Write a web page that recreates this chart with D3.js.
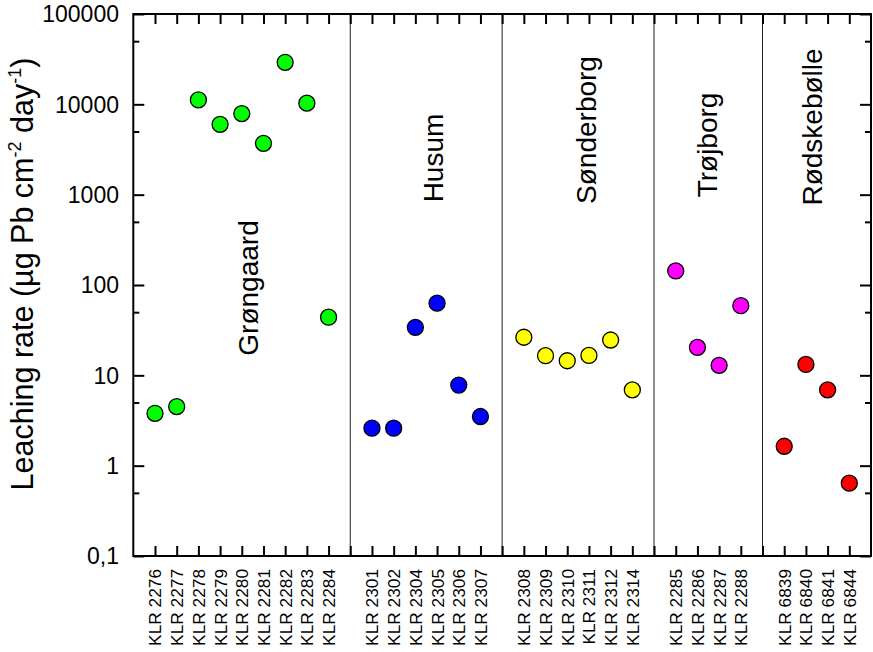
<!DOCTYPE html>
<html>
<head>
<meta charset="utf-8">
<script src="https://cdn.jsdelivr.net/npm/d3@7/dist/d3.min.js"></script>
<style>
  html, body { margin: 0; padding: 0; background: #fff; }
  svg { display: block; font-family: "Liberation Sans", Arial, Helvetica, sans-serif; }
</style>
</head>
<body>
<svg id="chart" width="873" height="652"></svg>
<script>
// ---------------- DATA ----------------
const groupNames = ["Grøngaard", "Husum", "Sønderborg", "Trøjborg", "Rødskebølle"];

const samplesGrongaard = ["KLR 2276", "KLR 2277", "KLR 2278", "KLR 2279", "KLR 2280", "KLR 2281", "KLR 2282", "KLR 2283", "KLR 2284"];
const valuesGrongaard  = [3.8, 4.5, 11200, 6000, 7900, 3700, 29200, 10300, 44];

const samplesHusum = ["KLR 2301", "KLR 2302", "KLR 2304", "KLR 2305", "KLR 2306", "KLR 2307"];
const valuesHusum  = [2.6, 2.6, 34, 63, 7.8, 3.5];

const samplesSonderborg = ["KLR 2308", "KLR 2309", "KLR 2310", "KLR 2311", "KLR 2312", "KLR 2314"];
const valuesSonderborg  = [26.4, 16.5, 14.5, 16.6, 24.6, 6.9];

const samplesTrojborg = ["KLR 2285", "KLR 2286", "KLR 2287", "KLR 2288"];
const valuesTrojborg  = [143, 20.4, 12.9, 59];

const samplesRodskebolle = ["KLR 6839", "KLR 6840", "KLR 6841", "KLR 6844"];
const valuesRodskebolle  = [1.64, 13.2, 6.9, 0.64];

const yTickValues = [0.1, 1, 10, 100, 1000, 10000, 100000];
const yTickLabels = ["0,1", "1", "10", "100", "1000", "10000", "100000"];
const yMinorTickValues = [0.5, 5, 50, 500, 5000, 50000];

// ---------------- STYLE / LAYOUT ----------------
const groupColors = ["#00ff00", "#0000ff", "#ffff00", "#ff00ff", "#ff0000"];
// group label anchor in data units: [x index units, y value]
const groupLabelAnchors = [[5.75, 92.7], [14.28, 2546], [21.33, 5200], [26.91, 3548], [31.75, 5610]];

const groupSamples = [samplesGrongaard, samplesHusum, samplesSonderborg, samplesTrojborg, samplesRodskebolle];
const groupValues  = [valuesGrongaard, valuesHusum, valuesSonderborg, valuesTrojborg, valuesRodskebolle];

// Build positions: each group occupies consecutive integer slots, separated by one empty slot
const points = [];
const separators = [];
let pos = 0;
groupSamples.forEach((arr, g) => {
  arr.forEach((name, i) => {
    pos += 1;
    points.push({ name, value: groupValues[g][i], pos, group: g });
  });
  pos += 1;
  if (g < groupSamples.length - 1) separators.push(pos);
});
const xMax = pos; // right edge

const plotL = 133.3, plotR = 871, plotT = 14, plotB = 556;

const svg = d3.select("#chart");

const x = d3.scaleLinear().domain([0, xMax]).range([plotL, plotR]);
const y = d3.scaleLog().domain([0.1, 100000]).range([plotB, plotT]);

const allTicks = d3.range(1, xMax);

// separators
svg.append("g").selectAll("line").data(separators).join("line")
  .attr("x1", d => x(d)).attr("x2", d => x(d))
  .attr("y1", plotT).attr("y2", plotB)
  .attr("stroke", "#222").attr("stroke-width", 1);

// Axes
const bottomAxis = d3.axisBottom(x).tickValues(allTicks).tickSize(-10).tickFormat("");
const topAxis = d3.axisTop(x).tickValues(allTicks).tickSize(-10).tickFormat("");
const leftAxis = d3.axisLeft(y).tickValues(yTickValues).tickSize(-11).tickFormat("");
const leftMinor = d3.axisLeft(y).tickValues(yMinorTickValues).tickSize(-6).tickFormat("");
const rightAxis = d3.axisRight(y).tickValues(yTickValues).tickSize(-11).tickFormat("");
const rightMinor = d3.axisRight(y).tickValues(yMinorTickValues).tickSize(-6).tickFormat("");

function styleAxis(g) {
  g.select(".domain").remove();
  g.selectAll(".tick line").attr("stroke", "#000").attr("stroke-width", 2);
}
svg.append("g").attr("transform", `translate(0,${plotB})`).call(bottomAxis).call(styleAxis);
svg.append("g").attr("transform", `translate(0,${plotT})`).call(topAxis).call(styleAxis);
svg.append("g").attr("transform", `translate(${plotL},0)`).call(leftAxis).call(styleAxis);
svg.append("g").attr("transform", `translate(${plotL},0)`).call(leftMinor).call(styleAxis);
svg.append("g").attr("transform", `translate(${plotR},0)`).call(rightAxis).call(styleAxis);
svg.append("g").attr("transform", `translate(${plotR},0)`).call(rightMinor).call(styleAxis);

// frame
svg.append("rect")
  .attr("x", plotL).attr("y", plotT)
  .attr("width", plotR - plotL).attr("height", plotB - plotT)
  .attr("fill", "none").attr("stroke", "#000").attr("stroke-width", 2);

// y tick labels
svg.append("g").selectAll("text").data(yTickValues).join("text")
  .attr("x", 119).attr("y", d => y(d))
  .attr("dy", "0.36em")
  .attr("text-anchor", "end")
  .attr("font-size", 23)
  .attr("fill", "#000")
  .text((d, i) => yTickLabels[i]);

// x tick labels (rotated)
svg.append("g").selectAll("text").data(points).join("text")
  .attr("transform", d => `translate(${x(d.pos) + 6.5},${plotB + 13}) rotate(-90)`)
  .attr("text-anchor", "end")
  .attr("font-size", 17.3)
  .attr("fill", "#000")
  .text(d => d.name);

// group labels
svg.append("g").selectAll("text").data(groupNames).join("text")
  .attr("transform", (d, i) => `translate(${x(groupLabelAnchors[i][0])},${y(groupLabelAnchors[i][1])}) rotate(-90)`)
  .attr("text-anchor", "middle")
  .attr("font-size", 28)
  .attr("fill", "#000")
  .text(d => d);

// points
svg.append("g").selectAll("circle").data(points).join("circle")
  .attr("cx", d => x(d.pos))
  .attr("cy", d => y(d.value))
  .attr("r", 8)
  .attr("fill", d => groupColors[d.group])
  .attr("stroke", "#000")
  .attr("stroke-width", 1.3);

// y axis title
const yt = svg.append("text")
  .attr("transform", `translate(33,274) rotate(-90)`)
  .attr("text-anchor", "middle")
  .attr("font-size", 30.5)
  .attr("fill", "#000");
yt.append("tspan").text("Leaching rate (µg Pb cm");
yt.append("tspan").attr("font-size", 18).attr("dy", -12).text("-2");
yt.append("tspan").attr("dy", 12).text(" day");
yt.append("tspan").attr("font-size", 18).attr("dy", -12).text("-1");
yt.append("tspan").attr("dy", 12).text(")");
</script>
</body>
</html>
